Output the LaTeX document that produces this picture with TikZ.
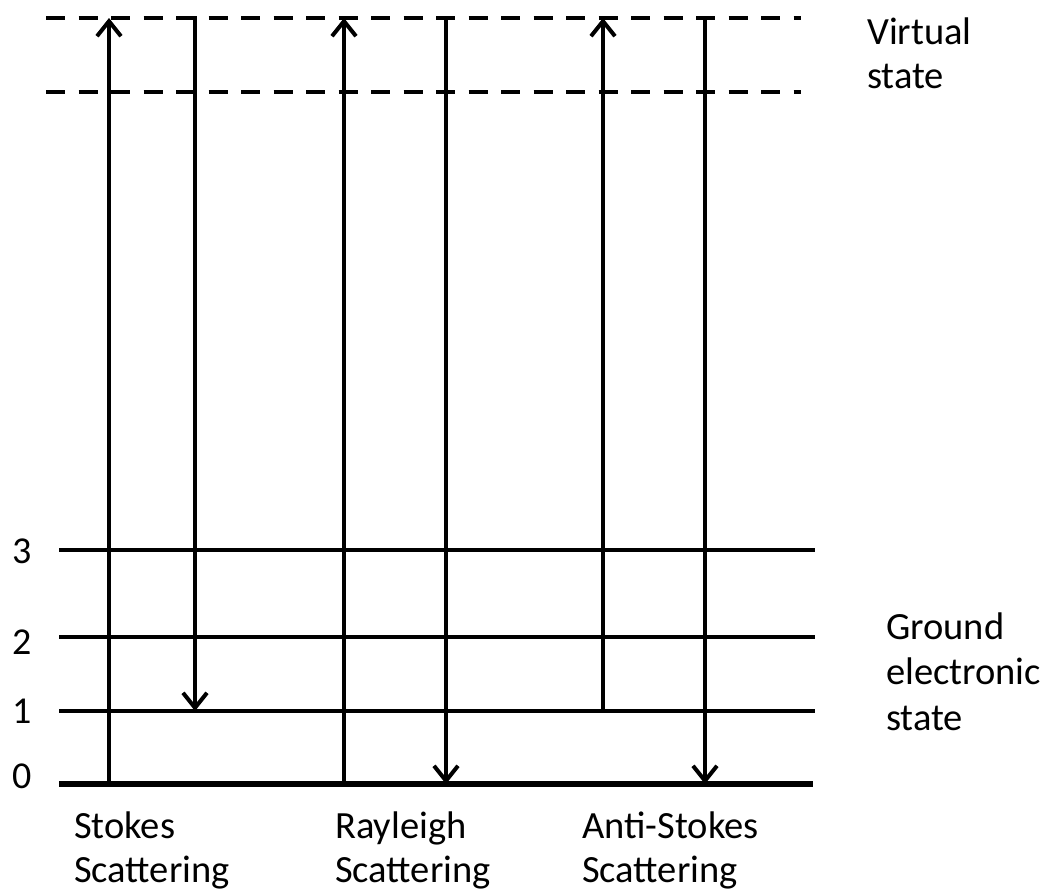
\documentclass[tikz,border=0pt]{standalone}
\usepackage{fontspec}
\setmainfont{Carlito}
\usetikzlibrary{arrows.meta}
\begin{document}
\begin{tikzpicture}[x=1pt,y=-1pt,
  level/.style={line width=4pt},
  groundlevel/.style={line width=6pt},
  virt/.style={line width=4pt,dash pattern=on 19pt off 13.5pt},
  trans/.style={line width=4pt,-{Straight Barb[length=15pt,width=24pt]}},
  lbl/.style={inner sep=0pt,anchor=base west,align=left,font=\fontsize{38.5}{44}\selectfont},
  num/.style={inner sep=0pt,anchor=base west,font=\fontsize{38}{44}\selectfont}]
\useasboundingbox (0,0) rectangle (1044,892);
% virtual state dashed lines
\coordinate (v1l) at (46,18); \coordinate (v1r) at (801,18);
\coordinate (v2l) at (46,92); \coordinate (v2r) at (801,92);
\draw[virt] (v1l) -- (v1r);
\draw[virt] (v2l) -- (v2r);
% ground vibrational levels
\coordinate (l3l) at (59,550); \coordinate (l3r) at (815,550);
\coordinate (l2l) at (59,637); \coordinate (l2r) at (815,637);
\coordinate (l1l) at (59,711); \coordinate (l1r) at (815,711);
\coordinate (l0l) at (59,784); \coordinate (l0r) at (813,784);
\draw[level] (l3l) -- (l3r);
\draw[level] (l2l) -- (l2r);
\draw[level] (l1l) -- (l1r);
\draw[groundlevel] (l0l) -- (l0r);
% transitions
\coordinate (su0) at (109,784); \coordinate (su1) at (109,18);
\coordinate (sd0) at (195,16);  \coordinate (sd1) at (195,711);
\coordinate (ru0) at (344,784); \coordinate (ru1) at (344,18);
\coordinate (rd0) at (446,16);  \coordinate (rd1) at (446,784);
\coordinate (au0) at (603,711); \coordinate (au1) at (603,18);
\coordinate (ad0) at (705,16);  \coordinate (ad1) at (705,784);
\draw[trans] (su0) -- (su1);
\draw[trans] (sd0) -- (sd1);
\draw[trans] (ru0) -- (ru1);
\draw[trans] (rd0) -- (rd1);
\draw[trans] (au0) -- (au1);
\draw[trans] (ad0) -- (ad1);
% level numbers
\node[num] (n3) at (12,563) {3};
\node[num] (n2) at (12,654) {2};
\node[num] (n1) at (12,723) {1};
\node[num] (n0) at (12,788) {0};
% labels (base anchor = baseline of the last line)
\node[lbl] (virtual) at (867,88) {Virtual\\state};
\node[lbl,font=\fontsize{38.5}{45.5}\selectfont] (ground) at (886,730) {Ground\\electronic\\state};
\node[lbl] (stokes) at (74,882) {Stokes\\Scattering};
\node[lbl] (rayleigh) at (335,882) {Rayleigh\\Scattering};
\node[lbl] (anti) at (582,882) {Anti-Stokes\\Scattering};
\end{tikzpicture}
\end{document}
